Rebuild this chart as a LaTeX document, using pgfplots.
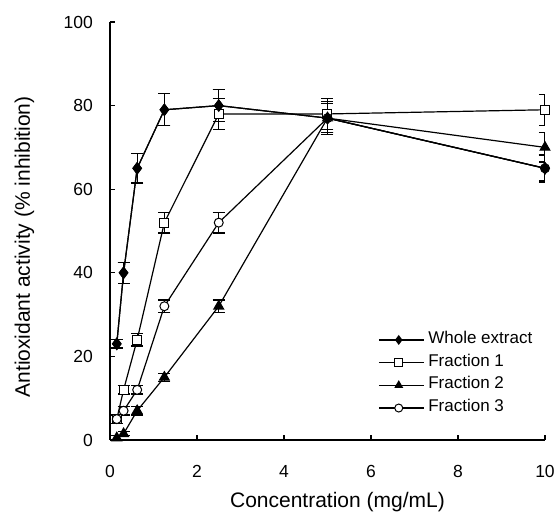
\documentclass[border=0pt]{standalone}
\usepackage{pgfplots}
\usepackage{pgfplotstable}
\pgfplotsset{compat=1.18}
\usepackage{fontspec}
\setmainfont{Liberation Sans}

% concentration (mg/mL), % inhibition, error
\pgfplotstableread{
x y e
0.156 23 1
0.3125 40 2.5
0.625 65 3.5
1.25 79 3.8
2.5 80 3.8
5 77 3.5
10 65 3.3
}\whole
\pgfplotstableread{
x y e
0.156 5 1
0.3125 12 1
0.625 24 1.5
1.25 52 2.5
2.5 78 3.7
5 78 3.7
10 79 3.7
}\fracone
\pgfplotstableread{
x y e
0.156 0.5 0.5
0.3125 1.5 0.5
0.625 7 1
1.25 15 1
2.5 32 1.5
5 77 3.5
10 70 3.5
}\fractwo
\pgfplotstableread{
x y e
0.156 5 1
0.3125 7 1
0.625 12 1
1.25 32 1.5
2.5 52 2.5
5 77 4
10 65 3
}\fracthree

\newcommand{\tickfont}{\fontsize{17.5}{20}\selectfont}
\newcommand{\labfont}{\fontsize{21}{24}\selectfont}
\newcommand{\legfont}{\fontsize{17}{20}\selectfont}

\begin{document}
\begin{tikzpicture}
\useasboundingbox (-110pt,-73pt) rectangle (448pt,440pt);
\begin{axis}[
    scale only axis,
    width=435pt, height=418pt,
    xmin=0, xmax=10, ymin=0, ymax=100,
    axis lines=left,
    axis line style={-, line width=1.2pt},
    xtick={0,2,...,10}, ytick={0,20,...,100},
    tick align=inside,
    major tick length=5pt,
    tick style={line width=1.2pt, black},
    /pgf/number format/assume math mode=true,
    tick label style={font=\tickfont},
    label style={font=\labfont},
    xticklabel style={inner sep=0pt, anchor=north, yshift=-25pt},
    yticklabel style={inner sep=0pt, anchor=east, xshift=-17pt},
    xlabel={Concentration (mg/mL)},
    ylabel={Antioxidant activity (\% inhibition)},
    xlabel style={at={(axis description cs:0.523,0)}, anchor=base, inner sep=0pt, yshift=-68pt},
    ylabel style={at={([xshift=-80pt]axis description cs:0,0.462)}, rotate=0, anchor=base, inner sep=0pt},
    legend cell align=left,
    legend style={draw=none, fill=none, font=\legfont, at={(axis description cs:0.616,0.267)}, anchor=north west,
        inner sep=0pt, row sep=0pt, column sep=2pt,
        nodes={inner sep=2pt, text height=13pt, text depth=5.7pt}},
    legend image code/.code={\draw[mark repeat=2,mark phase=2,mark size=4pt]
        plot coordinates {(0pt,0pt) (20pt,0pt) (45pt,0pt)};},
    every axis plot/.append style={black, line width=1.2pt},
    error bars/error bar style={line width=1.2pt},
    error bars/error mark options={rotate=90, mark size=6pt, line width=1.2pt},
]
\addplot[mark=diamond*, mark size=5.5pt, mark options={fill=black},
    error bars/.cd, y dir=both, y explicit] table[x=x, y=y, y error=e] {\whole};
\addlegendentry{Whole extract}
\addplot[mark=square*, mark size=4.5pt, mark options={fill=white, line width=1pt},
    error bars/.cd, y dir=both, y explicit] table[x=x, y=y, y error=e] {\fracone};
\addlegendentry{Fraction 1}
\addplot[mark=triangle*, mark size=5.5pt, mark options={fill=black},
    error bars/.cd, y dir=both, y explicit] table[x=x, y=y, y error=e] {\fractwo};
\addlegendentry{Fraction 2}
\addplot[mark=*, mark size=4.5pt, mark options={fill=white, line width=1pt},
    error bars/.cd, y dir=both, y explicit] table[x=x, y=y, y error=e] {\fracthree};
\addlegendentry{Fraction 3}
% whole extract again on top, as in the original
\addplot[forget plot, mark=diamond*, mark size=5.5pt, mark options={fill=black},
    error bars/.cd, y dir=both, y explicit] table[x=x, y=y, y error=e] {\whole};
\end{axis}
\end{tikzpicture}
\end{document}
